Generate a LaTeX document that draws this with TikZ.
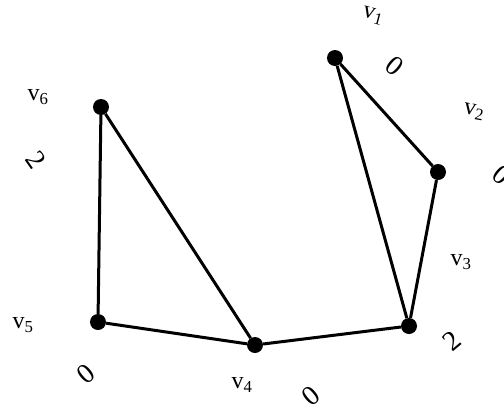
\documentclass[tikz,border=0pt]{standalone}
\usepackage{fontspec}
\setmainfont{Liberation Serif}
\begin{document}
\begin{tikzpicture}[x=1pt,y=-1pt,
  dot/.style={circle,fill=black,inner sep=0pt,minimum size=16pt},
  edge/.style={line width=3pt},
  lbl/.style={font=\fontsize{24}{26}\selectfont,inner sep=0pt},
  wt/.style={font=\fontsize{28}{30}\selectfont,inner sep=0pt}]
\useasboundingbox (0,0) rectangle (504,408);
\node[dot] (v1) at (335,58) {};
\node[dot] (v2) at (438,172) {};
\node[dot] (v3) at (409,326) {};
\node[dot] (v4) at (255,345) {};
\node[dot] (v5) at (98,322) {};
\node[dot] (v6) at (101,107) {};
\draw[edge] (v1) -- (v2) -- (v3) -- (v4) -- (v5) -- (v6) -- (v4);
\draw[edge] (v1) -- (v3);
\node[lbl,rotate=-15] (l1) at (373,16) {v\textsubscript{1}};
\node[lbl,rotate=-10] (l2) at (474,112) {v\textsubscript{2}};
\node[lbl] (l3) at (461,262) {v\textsubscript{3}};
\node[lbl] (l4) at (242,385) {v\textsubscript{4}};
\node[lbl] (l5) at (23,325) {v\textsubscript{5}};
\node[lbl] (l6) at (38,97) {v\textsubscript{6}};
\node[wt,rotate=-40] (w1) at (395,66) {0};
\node[wt,rotate=-40] (w2) at (502,175) {0};
\node[wt,rotate=40] (w3) at (452,341) {2};
\node[wt,rotate=40] (w4) at (311,396) {0};
\node[wt,rotate=40] (w5) at (86,374) {0};
\node[wt,rotate=-55] (w6) at (36,160) {2};
\end{tikzpicture}
\end{document}
